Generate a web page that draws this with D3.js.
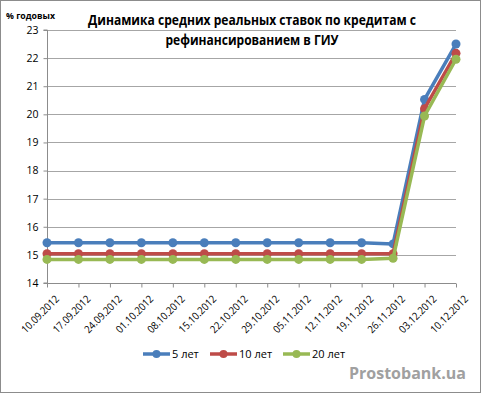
<!DOCTYPE html>
<html><head><meta charset="utf-8">
<script src="https://cdn.jsdelivr.net/npm/d3@7"></script>
<style>body{margin:0;background:#fff}svg{display:block}text{font-family:"Open Sans","Liberation Sans",sans-serif}</style>
</head><body><svg id="c" width="481" height="393"></svg>
<script>
const categories = ["10.09.2012","17.09.2012","24.09.2012","01.10.2012","08.10.2012","15.10.2012","22.10.2012","29.10.2012","05.11.2012","12.11.2012","19.11.2012","26.11.2012","03.12.2012","10.12.2012"];
const years5  = [15.43,15.43,15.43,15.43,15.43,15.43,15.43,15.43,15.43,15.43,15.43,15.39,20.53,22.5];
const years10 = [15.04,15.04,15.04,15.04,15.04,15.04,15.04,15.04,15.04,15.04,15.04,15.04,20.2,22.17];
const years20 = [14.84,14.84,14.84,14.84,14.84,14.84,14.84,14.84,14.84,14.84,14.84,14.88,19.94,21.96];
const yTicks = [14,15,16,17,18,19,20,21,22,23];
const seriesNames = ["5 лет","10 лет","20 лет"];
const colors = ["#4a7ebb","#be4b48","#98b954"];
const series = [years5, years10, years20];

const svg = d3.select("#c");
svg.append("rect").attr("x",0.5).attr("y",0.5).attr("width",480).attr("height",392).attr("fill","#fff").attr("stroke","#8c8c8c");

const L=47, R=456, T=30, B=283;
const x = d3.scalePoint().domain(categories).range([L,R]);
const y = d3.scaleLinear().domain([14,23]).range([B,T]);

// gridlines
svg.append("g").selectAll("line").data(yTicks.slice(1)).join("line")
  .attr("x1",L).attr("x2",R).attr("y1",d=>Math.round(y(d))+0.5).attr("y2",d=>Math.round(y(d))+0.5)
  .attr("stroke","#a6a6a6").attr("stroke-width",1);

// y axis
const ya = svg.append("g").attr("transform",`translate(${L+0.5},0)`).call(d3.axisLeft(y).tickValues(yTicks).tickSize(4).tickPadding(5).tickFormat(d3.format("d")));
ya.select(".domain").attr("stroke","#8c8c8c").attr("d",`M-4,${y(23)}H0V${y(14)}H-4`);
ya.selectAll(".tick line").attr("stroke","#8c8c8c");
ya.selectAll("text").attr("font-size",10.5).attr("fill","#000");

// x axis
const xa = svg.append("g").attr("transform",`translate(0,${B+0.5})`).call(d3.axisBottom(x).tickSize(4).tickPadding(4));
xa.select(".domain").attr("stroke","#8c8c8c").attr("d",`M${L},0H${R}`);
xa.selectAll(".tick line").attr("stroke","#8c8c8c");
xa.selectAll("text").attr("font-size",10.5).attr("fill","#000")
  .attr("text-anchor","end").attr("dy","0.35em")
  .attr("textLength",48).attr("lengthAdjust","spacingAndGlyphs")
  .attr("transform","translate(4,8) rotate(-45)");

// lines
const line = d3.line().x((d,i)=>x(categories[i])).y(d=>y(d));
series.forEach((s,k)=>{
  const g = svg.append("g");
  g.append("path").datum(s).attr("d",line).attr("fill","none").attr("stroke",colors[k]).attr("stroke-width",3.5).attr("stroke-linejoin","round");
  g.selectAll("circle").data(s).join("circle").attr("cx",(d,i)=>x(categories[i])).attr("cy",d=>y(d)).attr("r",4.5).attr("fill",colors[k]);
});

// title
const title = svg.append("text").attr("text-anchor","middle").attr("font-size",14).attr("font-weight","bold").attr("fill","#000");
title.append("tspan").attr("x",252).attr("y",25).attr("textLength",328).attr("lengthAdjust","spacingAndGlyphs").text("Динамика средних реальных ставок по кредитам с");
title.append("tspan").attr("x",252).attr("y",45).attr("textLength",173).attr("lengthAdjust","spacingAndGlyphs").text("рефинансированием в ГИУ");

svg.append("text").attr("x",6).attr("y",19).attr("font-size",8.5).attr("font-weight","bold").attr("textLength",49).attr("lengthAdjust","spacingAndGlyphs").text("% годовых");

// legend
const legX = [143,210,283];
seriesNames.forEach((n,k)=>{
  const g = svg.append("g").attr("transform",`translate(${legX[k]},354)`);
  g.append("line").attr("x1",0).attr("x2",27).attr("y1",0).attr("y2",0).attr("stroke",colors[k]).attr("stroke-width",3.5);
  g.append("circle").attr("cx",13.5).attr("cy",0).attr("r",4).attr("fill",colors[k]);
  g.append("text").attr("x",29).attr("y",4).attr("font-size",11).text(n);
});

svg.append("text").attr("x",466).attr("y",379).attr("text-anchor","end").attr("font-size",16).attr("font-weight","bold").attr("fill","#a0a0a0").text("Prostobank.ua");
</script></body></html>
